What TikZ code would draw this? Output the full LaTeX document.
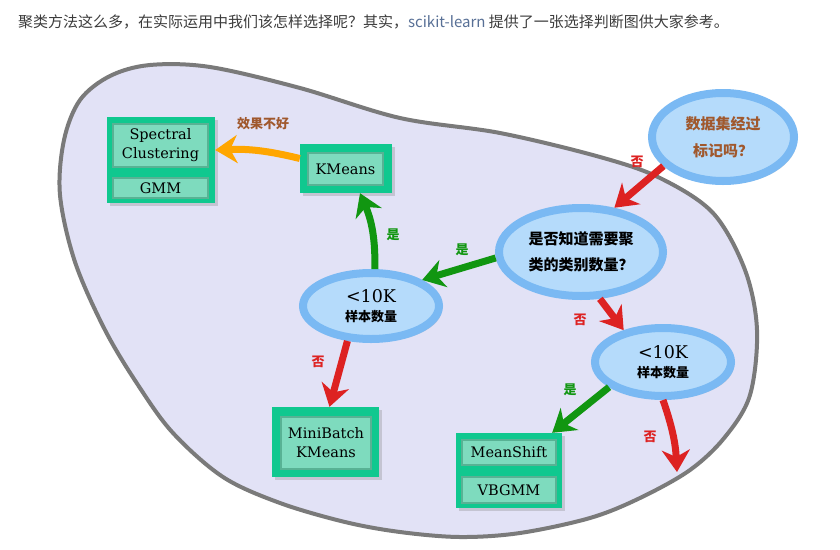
\documentclass[tikz,border=0pt]{standalone}
\usepackage{fontspec}
\newfontfamily\cjk{Noto Sans CJK SC}
\newfontfamily\boxfont{DejaVu Serif}
\usetikzlibrary{arrows.meta,shapes.geometric,shadows}
\definecolor{blobfill}{RGB}{226,226,246}
\definecolor{blobline}{RGB}{122,122,122}
\definecolor{ring}{RGB}{122,185,243}
\definecolor{ellfill}{RGB}{181,219,251}
\definecolor{boxgreen}{RGB}{16,200,143}
\definecolor{panel}{RGB}{126,219,190}
\definecolor{paneledge}{RGB}{88,178,148}
\definecolor{arred}{RGB}{221,34,34}
\definecolor{argreen}{RGB}{17,150,17}
\definecolor{arorange}{RGB}{255,166,0}
\definecolor{brownt}{RGB}{160,88,45}
\definecolor{hdr}{RGB}{60,60,60}
\definecolor{sk}{RGB}{88,112,150}
\begin{document}
\begin{tikzpicture}[x=1pt,y=-1pt,
  ell/.style={ellipse, draw=ring, line width=8pt, fill=ellfill, inner sep=0pt, align=center,
    drop shadow={shadow xshift=3pt,shadow yshift=-3pt,opacity=0.3}},
  grp/.style={rectangle, fill=boxgreen, inner sep=0pt,
    drop shadow={shadow xshift=3pt,shadow yshift=-3pt,opacity=0.3}},
  pnl/.style={rectangle, fill=panel, draw=paneledge, line width=1.2pt, inner sep=0pt, align=center,
    font=\boxfont\fontsize{14.5}{19}\selectfont},
  arr/.style={line width=7pt, -{Stealth[length=22pt,width=28pt,inset=7pt]}},
  lab/.style={font=\cjk\bfseries\fontsize{13}{15}\selectfont, inner sep=0pt},
  sz/.style={font=\boxfont\fontsize{17.5}{19}\selectfont},
  blob/.style={draw=blobline, line width=4pt, fill=blobfill}
]
\useasboundingbox[fill=white] (0,0) rectangle (840,549);

\node[anchor=west, text=hdr, font=\cjk\fontsize{15}{18}\selectfont, inner sep=0pt] (hd) at (18,22)
  {聚类方法这么多，在实际运用中我们该怎样选择呢？其实，{\color{sk}scikit-learn} 提供了一张选择判断图供大家参考。};

\draw[blob] plot[smooth cycle, tension=0.55] coordinates {
 (60,195) (64,140) (80,100) (110,76) (150,65) (210,67) (300,88) (400,118) (500,133)
 (600,157) (660,178) (713,213) (745,270) (757,330) (750,395) (725,437) (690,470)
 (640,498) (590,518) (520,533) (460,537) (400,532) (345,522) (280,503) (223,477)
 (173,433) (138,385) (105,330) (75,262)};

% ellipses
\node[ell, minimum width=142pt, minimum height=88pt, text=brownt,
  font=\cjk\bfseries\fontsize{15}{27}\selectfont] (ds) at (723,137) {数据集经过\\标记吗？};
\node[ell, minimum width=164pt, minimum height=88pt, text=black,
  font=\cjk\bfseries\fontsize{15}{26}\selectfont] (k) at (581,252) {是否知道需要聚\\类的类别数量？};
\node[ell, sz, minimum width=136pt, minimum height=66pt] (s1) at (371,306)
  {<10K\\{\cjk\bfseries\fontsize{13}{14}\selectfont 样本数量}};
\node[ell, sz, minimum width=136pt, minimum height=68pt] (s2) at (663,362)
  {<10K\\{\cjk\bfseries\fontsize{13}{14}\selectfont 样本数量}};

% boxes
\node[grp, minimum width=108pt, minimum height=86pt] (scg) at (161,160) {};
\node[pnl, minimum width=95pt, minimum height=43pt] (sc) at (160.5,145.5) {Spectral\\Clustering};
\node[pnl, minimum width=95pt, minimum height=20pt] (gmm) at (160.5,188) {GMM};

\node[grp, minimum width=92pt, minimum height=49pt] (kmg) at (346,168.5) {};
\node[pnl, minimum width=75pt, minimum height=32pt] (km) at (345.5,169) {KMeans};

\node[grp, minimum width=107pt, minimum height=70pt] (mbg) at (325.5,442) {};
\node[pnl, minimum width=90pt, minimum height=52pt] (mb) at (326,443) {MiniBatch\\KMeans};

\node[grp, minimum width=106pt, minimum height=75pt] (msg) at (509,470.5) {};
\node[pnl, minimum width=94pt, minimum height=25pt] (ms) at (509,452.5) {MeanShift};
\node[pnl, minimum width=94pt, minimum height=26pt] (vb) at (509,490) {VBGMM};

\coordinate (end) at (677,472);

% arrows
\draw[arr, arred] (ds.206) -- (k.53);
\draw[arr, arorange] ([yshift=10pt]kmg.west) to[bend right=8] ([yshift=10pt]scg.east);
\draw[arr, argreen] (s1.84) to[bend right=12] ([xshift=14pt]kmg.south);
\draw[arr, argreen] (k.184) -- (s1.27);
\draw[arr, arred] (s1.236) -- ([xshift=4pt]mbg.north);
\draw[arr, arred] (k.-68) -- (s2.141);
\draw[arr, argreen] (s2.205) -- ([xshift=-10pt]msg.north east);
\draw[arr, arred] (s2.-90) to[bend left=8] (end);

% labels
\node[lab, text=arred] (l1) at (637,162) {否};
\node[lab, text=brownt] (l2) at (263,124) {效果不好};
\node[lab, text=argreen] (l3) at (393,235) {是};
\node[lab, text=argreen] (l4) at (462,250) {是};
\node[lab, text=arred] (l5) at (318,362) {否};
\node[lab, text=arred] (l6) at (580,320) {否};
\node[lab, text=argreen] (l7) at (570,390) {是};
\node[lab, text=arred] (l8) at (650,437) {否};
\end{tikzpicture}
\end{document}
